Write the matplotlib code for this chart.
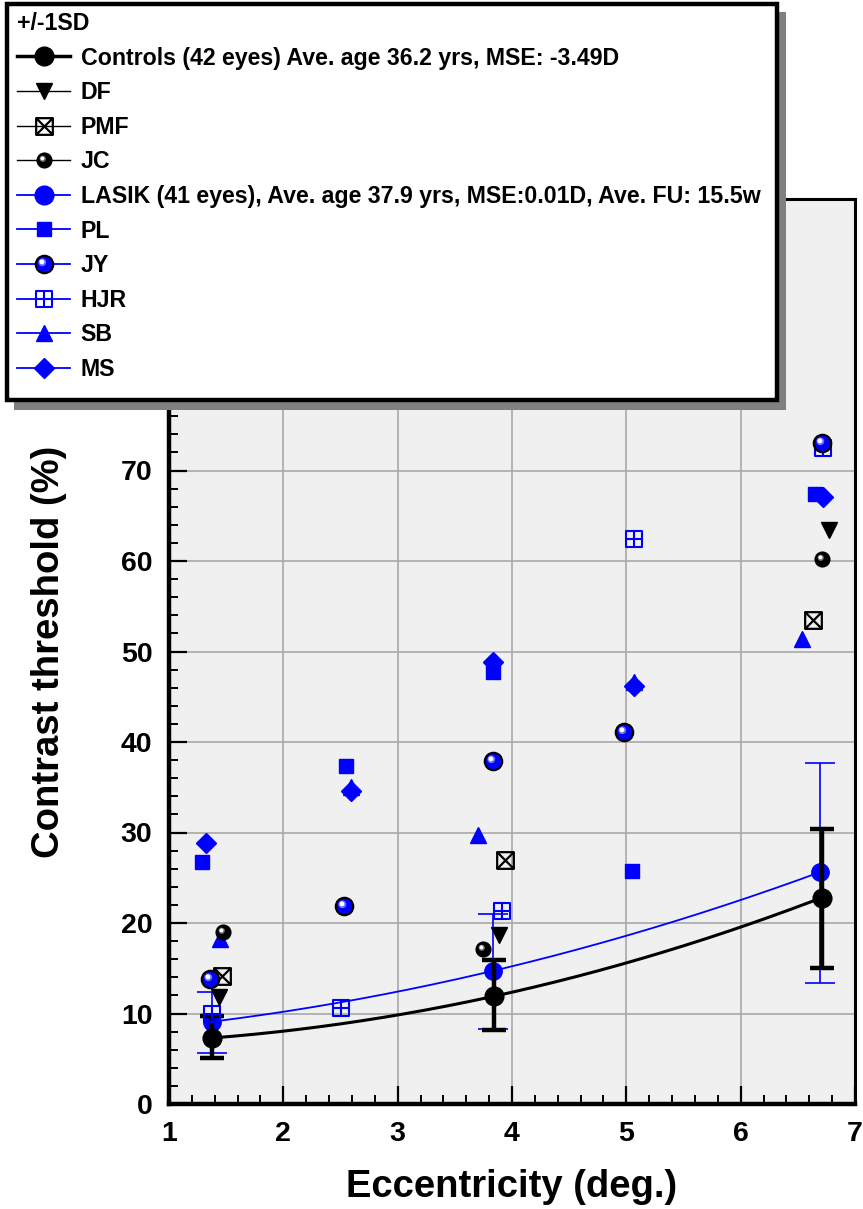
import numpy as np
import matplotlib
matplotlib.use("Agg")
import matplotlib.pyplot as plt
from matplotlib.lines import Line2D
from matplotlib.path import Path
from matplotlib.patches import Rectangle
from matplotlib.legend_handler import HandlerTuple
from matplotlib.ticker import MultipleLocator

plt.rcParams['font.family'] = ['Liberation Sans', 'DejaVu Sans']
plt.rcParams['font.weight'] = 'bold'

# ---------------- data ----------------
ctrl_x = [1.38, 3.84, 6.71]
ctrl_y = [7.3, 11.9, 22.8]
ctrl_lo = [5.1, 8.2, 15.0]
ctrl_hi = [9.7, 15.9, 30.4]

lasik_x = [1.38, 3.83, 6.69]
lasik_y = [9.1, 14.7, 25.6]
lasik_lo = [5.6, 8.3, 13.4]
lasik_hi = [12.4, 21.0, 37.7]

df_x = [1.44, 3.89, 6.77]
df_y = [11.8, 18.7, 63.4]
pmf_x = [1.46, 3.94, 6.63]
pmf_y = [14.1, 27.0, 53.5]
jc_x = [1.47, 3.75, 6.71]
jc_y = [19.0, 17.1, 60.2]

pl_x = [1.29, 2.55, 3.83, 5.05, 6.65]
pl_y = [26.7, 37.3, 47.7, 25.7, 67.4]
jy_x = [1.36, 2.53, 3.83, 4.98, 6.71]
jy_y = [13.8, 21.9, 37.9, 41.1, 73.0]
hjr_x = [1.38, 2.50, 3.91, 5.07, 6.72]
hjr_y = [10.0, 10.6, 21.3, 62.4, 72.5]
sb_x = [1.45, 2.59, 3.70, 5.07, 6.54]
sb_y = [18.2, 35.0, 29.7, 46.6, 51.4]
ms_x = [1.32, 2.59, 3.83, 5.07, 6.72]
ms_y = [28.8, 34.6, 48.8, 46.2, 67.1]

legend_title = '+/-1SD'
labels = ['Controls (42 eyes) Ave. age 36.2 yrs, MSE: -3.49D', 'DF', 'PMF', 'JC',
          'LASIK (41 eyes), Ave. age 37.9 yrs, MSE:0.01D, Ave. FU: 15.5w',
          'PL', 'JY', 'HJR', 'SB', 'MS']

BLUE = '#0000ff'

# ---------------- markers ----------------
M, L, C = Path.MOVETO, Path.LINETO, Path.CLOSEPOLY
sq_x_path = Path([(-1, -1), (1, -1), (1, 1), (-1, 1), (-1, -1),
                  (-1, -1), (1, 1), (-1, 1), (1, -1)],
                 [M, L, L, L, C, M, L, M, L])
sq_plus_path = Path([(-1, -1), (1, -1), (1, 1), (-1, 1), (-1, -1),
                     (0, -1), (0, 1), (-1, 0), (1, 0)],
                    [M, L, L, L, C, M, L, M, L])


def offset_circle(cx, cy, r):
    c = Path.circle((cx, cy), r)
    verts = np.vstack([[[1.0, 1.0], [-1.0, -1.0]], c.vertices])
    codes = np.concatenate([[M, M], c.codes])
    return Path(verts, codes)


glow_path = offset_circle(-0.25, 0.25, 0.45)
highlight_path = offset_circle(-0.3, 0.3, 0.28)

# ---------------- figure ----------------
fig = plt.figure(figsize=(8.63, 12.09), dpi=100)
W, H = 863, 1209
ax = fig.add_axes([169 / W, 105 / H, 686 / W, 905 / H])
ax.set_facecolor('#f0f0f0')
ax.set_xlim(1, 7)
ax.set_ylim(0, 100)
ax.xaxis.set_major_locator(MultipleLocator(1))
ax.xaxis.set_minor_locator(MultipleLocator(0.2))
ax.yaxis.set_major_locator(MultipleLocator(10))
ax.yaxis.set_minor_locator(MultipleLocator(2))
ax.set_yticks([0, 10, 20, 30, 40, 50, 60, 70])
ax.grid(True, which='major', color='#a8a8a8', lw=1.2)
ax.set_axisbelow(True)
ax.tick_params(which='major', direction='in', length=13, width=1.6,
               labelsize=20.5, pad=12)
ax.tick_params(which='minor', direction='in', length=6.5, width=1.4)
for lab in ax.get_xticklabels() + ax.get_yticklabels():
    lab.set_fontweight('bold')
for s in ['left', 'bottom']:
    ax.spines[s].set_linewidth(3.2)
for s in ['top', 'right']:
    ax.spines[s].set_linewidth(2.2)

ax.set_xlabel('Eccentricity (deg.)', fontsize=27.5, fontweight='bold', labelpad=16)
ax.set_ylabel('Contrast threshold (%)', fontsize=27.5, fontweight='bold', labelpad=39)

# trend curves
for xs, ys, col, lw in [(ctrl_x, ctrl_y, 'k', 2.2), (lasik_x, lasik_y, BLUE, 1.3)]:
    cf = np.polyfit(xs, ys, 2)
    xx = np.linspace(xs[0], xs[-1], 200)
    ax.plot(xx, np.polyval(cf, xx), color=col, lw=lw, zorder=3)

# error bars
ly = np.array(lasik_y)
ax.errorbar(lasik_x, lasik_y, yerr=[ly - np.array(lasik_lo), np.array(lasik_hi) - ly],
            fmt='o', color=BLUE, ms=12.5, ecolor=BLUE, elinewidth=1.2, capsize=11,
            capthick=1.2, zorder=4)
cy = np.array(ctrl_y)
ax.errorbar(ctrl_x, ctrl_y, yerr=[cy - np.array(ctrl_lo), np.array(ctrl_hi) - cy],
            fmt='o', color='k', ms=13.5, ecolor='k', elinewidth=3.2, capsize=8.5,
            capthick=3.2, zorder=5)


def sphere(axis, x, y, face, glow, ms, z):
    axis.plot(x, y, ls='none', marker='o', ms=ms, mfc=face, mec='k', mew=1.6, zorder=z)
    axis.plot(x, y, ls='none', marker=glow_path, ms=ms, mfc=glow, mec='none', zorder=z + 0.05)
    axis.plot(x, y, ls='none', marker=highlight_path, ms=ms, mfc='white', mec='none', zorder=z + 0.1)


# individual subjects
ax.plot(pl_x, pl_y, ls='none', marker='s', ms=10, color=BLUE, zorder=6)
ax.plot(ms_x, ms_y, ls='none', marker='D', ms=10, color=BLUE, zorder=6)
ax.plot(sb_x, sb_y, ls='none', marker='^', ms=12, color=BLUE, zorder=6)
ax.plot(hjr_x, hjr_y, ls='none', marker=sq_plus_path, ms=12, mfc='none', mec=BLUE, mew=1.5, zorder=6)
ax.plot(df_x, df_y, ls='none', marker='v', ms=12, color='k', zorder=6)
ax.plot(pmf_x, pmf_y, ls='none', marker=sq_x_path, ms=12, mfc='none', mec='k', mew=1.6, zorder=6)
sphere(ax, jc_x, jc_y, 'k', '#707070', 10, 7)
sphere(ax, jy_x, jy_y, BLUE, '#6f6fff', 12.5, 7)

# ---------------- legend ----------------
shadow = Rectangle((14 / W, 1 - 410 / H), 772 / W, 398 / H, transform=fig.transFigure,
                   facecolor='#808080', edgecolor='none', zorder=10)
box = Rectangle((7 / W, 1 - 400 / H), 770 / W, 396 / H, transform=fig.transFigure,
                facecolor='white', edgecolor='k', lw=3.2, zorder=11)
fig.add_artist(shadow)
fig.add_artist(box)


def sph_handle(face, glow, ms, col, lw):
    return (Line2D([], [], color=col, lw=lw, marker='o', ms=ms, mfc=face, mec='k', mew=1.6),
            Line2D([], [], ls='none', marker=glow_path, ms=ms, mfc=glow, mec='none'),
            Line2D([], [], ls='none', marker=highlight_path, ms=ms, mfc='white', mec='none'))


handles = [
    Line2D([], [], color='k', lw=2.5, marker='o', ms=13.5, mfc='k', mec='k'),
    Line2D([], [], color='k', lw=1, marker='v', ms=12, mfc='k', mec='k'),
    Line2D([], [], color='k', lw=1, marker=sq_x_path, ms=12, mfc='none', mec='k', mew=1.6),
    sph_handle('k', '#707070', 10, 'k', 1),
    Line2D([], [], color=BLUE, lw=1.3, marker='o', ms=13.5, mfc=BLUE, mec=BLUE),
    Line2D([], [], color=BLUE, lw=1.3, marker='s', ms=10, mfc=BLUE, mec=BLUE),
    sph_handle(BLUE, '#6f6fff', 12.5, BLUE, 1.3),
    Line2D([], [], color=BLUE, lw=1.3, marker=sq_plus_path, ms=12, mfc='none', mec=BLUE, mew=1.5),
    Line2D([], [], color=BLUE, lw=1.3, marker='^', ms=12, mfc=BLUE, mec=BLUE),
    Line2D([], [], color=BLUE, lw=1.3, marker='D', ms=10, mfc=BLUE, mec=BLUE),
]
leg = fig.legend(handles, labels, loc='upper left', bbox_to_anchor=(17 / W, 1 - 12 / H),
                 bbox_transform=fig.transFigure, frameon=False, title=legend_title,
                 alignment='left', prop={'size': 16.7, 'weight': 'bold'},
                 title_fontproperties={'size': 16.7, 'weight': 'bold'},
                 handlelength=2.3, handletextpad=0.45, labelspacing=0.5, borderpad=0,
                 borderaxespad=0, handler_map={tuple: HandlerTuple(ndivide=1)})
leg.set_zorder(12)

fig.savefig('out.png', dpi=100)
